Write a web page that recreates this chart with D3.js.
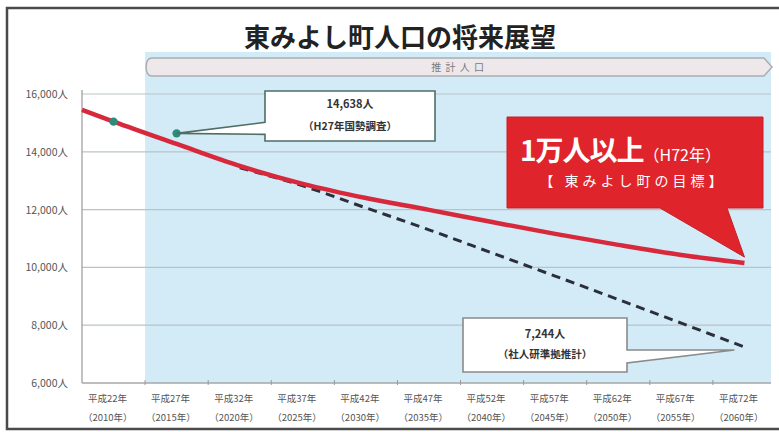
<!DOCTYPE html>
<html><head><meta charset="utf-8">
<script src="https://cdn.jsdelivr.net/npm/d3@7"></script>
<style>
html,body{margin:0;padding:0;background:#fff;}
svg{display:block;font-family:"Noto Sans CJK JP","Noto Sans",sans-serif;}
</style></head>
<body>
<svg id="c" width="779" height="432"></svg>
<script>
const categories = ["平成22年","平成27年","平成32年","平成37年","平成42年","平成47年","平成52年","平成57年","平成62年","平成67年","平成72年"];
const yearLabels = ["（2010年）","（2015年）","（2020年）","（2025年）","（2030年）","（2035年）","（2040年）","（2045年）","（2050年）","（2055年）","（2060年）"];
const targetValues = [15044,14270,13510,12890,12400,11990,11570,11160,10780,10430,10150];
const targetStartValue = 15450;
const ipssValues = [null,null,13450,12820,12060,11300,10500,9700,8890,8070,7244];
const censusValues = [15044,14638];
const yTicks = [6000,8000,10000,12000,14000,16000];
const title = "東みよし町人口の将来展望";
const bannerText = "推 計 人 口";
const callout1 = ["14,638人","（H27年国勢調査）"];
const callout2 = ["7,244人","（社人研準拠推計）"];
const goalMain = "1万人以上";
const goalSub = "（H72年）";
const goalLine2 = "【 東みよし町の目標】";

const svg = d3.select("#c");
const L = 82, R = 776, T = 94, B = 383;
const x = d3.scaleBand().domain(categories).range([L, R]).padding(0);
const xi = d3.scaleLinear().domain([-0.5, categories.length - 0.5]).range([L, R]);
const y = d3.scaleLinear().domain([6000, 16000]).range([B, T]);

// outer frame
svg.append("rect").attr("x",7).attr("y",8).attr("width",790).attr("height",421)
  .attr("fill","#fff").attr("stroke","#4a4a4a").attr("stroke-width",2.5);

// blue forecast region (from 2015 band)
svg.append("rect").attr("x", x(categories[1])).attr("y",52)
  .attr("width", 771 - x(categories[1])).attr("height", B - 52).attr("fill","#d3ebf6");

// title
svg.append("text").attr("x",400).attr("y",47).attr("text-anchor","middle")
  .attr("font-size",26).attr("font-weight","bold").attr("fill","#222").text(title);

// banner
const bx0 = x(categories[1]) + 1, bx1 = 770, by0 = 58, by1 = 76;
svg.append("path")
  .attr("d", `M${bx0+6},${by0} L${bx1-6},${by0} L${bx1+2},${(by0+by1)/2} L${bx1-6},${by1} L${bx0+6},${by1} Q${bx0},${by1} ${bx0},${(by0+by1)/2} Q${bx0},${by0} ${bx0+6},${by0} Z`)
  .attr("fill","#eee8ea").attr("stroke","#a9aeb2").attr("stroke-width",1.5);
svg.append("text").attr("x",(bx0+bx1)/2).attr("y",71).attr("text-anchor","middle")
  .attr("font-size",10).attr("fill","#7a7a7a").attr("letter-spacing",1).text(bannerText);

// gridlines
svg.append("g").selectAll("line").data(yTicks).join("line")
  .attr("x1",L).attr("x2",771).attr("y1",d=>y(d)).attr("y2",d=>y(d))
  .attr("stroke","#b9c3c7").attr("stroke-width",1.2);

// y axis
svg.append("line").attr("x1",L).attr("x2",L).attr("y1",T-4).attr("y2",B).attr("stroke","#999").attr("stroke-width",1.2);
svg.append("g").selectAll("text").data(yTicks).join("text")
  .attr("x",68).attr("y",d=>y(d)+4).attr("text-anchor","end")
  .attr("font-size",10.5).attr("fill","#555").text(d=>d3.format(",")(d)+"人");

// x axis
svg.append("line").attr("x1",L).attr("x2",771).attr("y1",B).attr("y2",B).attr("stroke","#999").attr("stroke-width",1.2);
svg.append("g").selectAll("line").data(categories.slice(1)).join("line")
  .attr("x1",d=>x(d)).attr("x2",d=>x(d)).attr("y1",B-3).attr("y2",B+2).attr("stroke","#999");
const xl = svg.append("g");
xl.selectAll("text.a").data(categories).join("text").attr("class","a")
  .attr("x",d=>x(d)+6).attr("y",402).attr("font-size",9.5).attr("fill","#555").text(d=>d);
xl.selectAll("text.b").data(yearLabels).join("text").attr("class","b")
  .attr("x",(d,i)=>x(categories[i])+1).attr("y",421).attr("font-size",9.5).attr("fill","#555").text(d=>d);

// lines
const line = d3.line().x(d=>xi(d[0])).y(d=>y(d[1])).curve(d3.curveMonotoneX);
const ipss = ipssValues.map((v,i)=>[i,v]).filter(d=>d[1]!=null);
svg.append("path").attr("d", line(ipss)).attr("fill","none")
  .attr("stroke","#2b2f3a").attr("stroke-width",3).attr("stroke-dasharray","9,6");
const target = [[-0.5,targetStartValue]].concat(targetValues.map((v,i)=>[i,v]));
svg.append("path").attr("d", line(target)).attr("fill","none")
  .attr("stroke","#d8283c").attr("stroke-width",4.5);

// census dots
svg.append("g").selectAll("circle").data(censusValues).join("circle")
  .attr("cx",(d,i)=>xi(i)).attr("cy",d=>y(d)).attr("r",4.2).attr("fill","#2b8c7c");

// callout 1
{
  const px = xi(1), py = y(censusValues[1]);
  const x0 = 265, x1 = 435, y0 = 91, y1 = 141;
  svg.append("path")
    .attr("d",`M${x0},${y0} L${x1},${y0} L${x1},${y1} L${x0},${y1} L${x0},${py+1} L${px},${py} L${x0},${py-11} Z`)
    .attr("fill","#fff").attr("stroke","#4f6e66").attr("stroke-width",1.6);
  svg.append("text").attr("x",(x0+x1)/2).attr("y",108).attr("text-anchor","middle")
    .attr("font-size",11).attr("font-weight","bold").attr("fill","#333").text(callout1[0]);
  svg.append("text").attr("x",(x0+x1)/2).attr("y",130).attr("text-anchor","middle")
    .attr("font-size",10.5).attr("font-weight","bold").attr("fill","#333").text(callout1[1]);
}
// callout 2
{
  const tx = xi(10) - 10, ty = y(ipssValues[10]) + 3;
  const x0 = 463, x1 = 627, y0 = 318, y1 = 372;
  svg.append("path")
    .attr("d",`M${x0},${y0} L${x1},${y0} L${x1},${ty} L${tx},${ty} L${x1},${ty+13} L${x1},${y1} L${x0},${y1} Z`)
    .attr("fill","#fff").attr("stroke","#8a8a8a").attr("stroke-width",1.6);
  svg.append("text").attr("x",(x0+x1)/2).attr("y",338).attr("text-anchor","middle")
    .attr("font-size",11).attr("font-weight","bold").attr("fill","#333").text(callout2[0]);
  svg.append("text").attr("x",(x0+x1)/2).attr("y",358).attr("text-anchor","middle")
    .attr("font-size",10.5).attr("font-weight","bold").attr("fill","#333").text(callout2[1]);
}
// red goal callout
{
  const tx = xi(10), ty = y(targetValues[10]) - 6;
  const x0 = 507, x1 = 763, y0 = 117, y1 = 208;
  svg.append("path")
    .attr("d",`M${x0},${y0} L${x1},${y0} L${x1},${y1} L${727},${y1} L${tx},${ty} L${660},${y1} L${x0},${y1} Z`)
    .attr("fill","#e0242c").attr("stroke","#c81e26").attr("stroke-width",1);
  const t = svg.append("text").attr("x",520).attr("y",161).attr("fill","#fff");
  t.append("tspan").attr("font-size",28).attr("font-weight","bold").attr("letter-spacing",-1).text(goalMain);
  t.append("tspan").attr("font-size",16).text(goalSub);
  svg.append("text").attr("x",633).attr("y",186).attr("text-anchor","middle")
    .attr("font-size",14).attr("fill","#fff").attr("letter-spacing",4).text(goalLine2);
}
</script>
</body></html>
